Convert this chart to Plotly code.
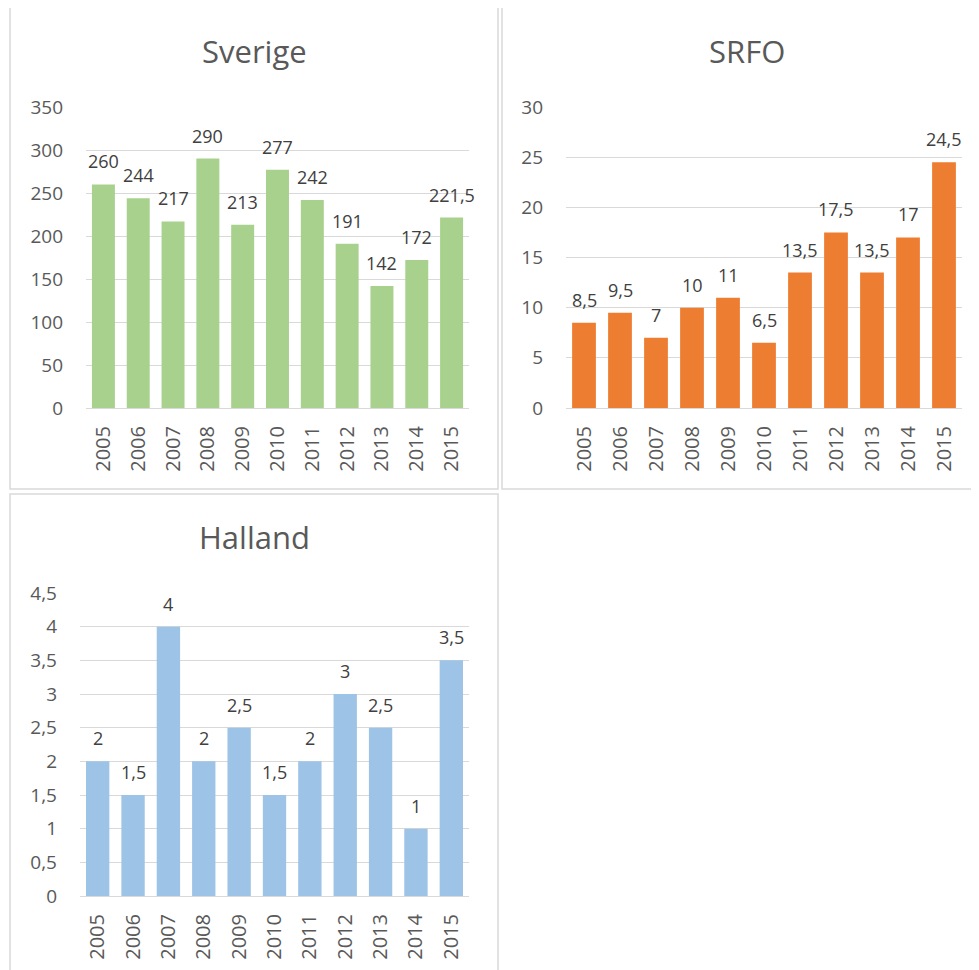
import plotly.graph_objects as go

years = ["2005", "2006", "2007", "2008", "2009", "2010", "2011", "2012", "2013", "2014", "2015"]
sverige = [260, 244, 217, 290, 213, 277, 242, 191, 142, 172, 221.5]
srfo = [8.5, 9.5, 7, 10, 11, 6.5, 13.5, 17.5, 13.5, 17, 24.5]
halland = [2, 1.5, 4, 2, 2.5, 1.5, 2, 3, 2.5, 1, 3.5]

W, H = 979, 970
OFF = 8  # page body margin
FONT = "Open Sans"
GREY = "#595959"
GRID = "#D9D9D9"


def fmt(v):
    s = ("%g" % v)
    return s.replace(".", ",")


def px(x):
    return (x - OFF) / W


def py(y):
    return 1 - (y - OFF) / H


fig = go.Figure()

panels = [
    dict(name="Sverige", vals=sverige, color="#A9D18E", ax="", xd=(86, 469), yd=(107, 408),
         yr=[0, 350], dt=50, title=(254, 51)),
    dict(name="SRFO", vals=srfo, color="#ED7D31", ax="2", xd=(566, 962), yd=(107, 408),
         yr=[0, 30], dt=5, title=(747, 51)),
    dict(name="Halland", vals=halland, color="#9DC3E6", ax="3", xd=(80, 469), yd=(593, 896),
         yr=[0, 4.5], dt=0.5, title=(254, 537)),
]

annotations = []
for p in panels:
    fig.add_trace(go.Bar(
        x=years, y=p["vals"], marker=dict(color=p["color"], line=dict(width=0)),
        showlegend=False, name=p["name"], hoverinfo="x+y",
        xaxis="x" + p["ax"], yaxis="y" + p["ax"],
    ))
    for i, v in enumerate(p["vals"]):
        annotations.append(dict(text=fmt(v), x=i, y=v, xref="x" + p["ax"], yref="y" + p["ax"],
                                showarrow=False, xanchor="center", yanchor="middle", yshift=23,
                                font=dict(family=FONT, size=18, color="#404040")))
    xa = dict(domain=[px(p["xd"][0]), px(p["xd"][1])], anchor="y" + p["ax"],
              tickangle=-90, showgrid=False, showline=True, linecolor=GRID, linewidth=1,
              tickfont=dict(family=FONT, size=20, color=GREY), ticks="", ticklabelstandoff=9,
              type="category", range=[-0.5, len(years) - 0.5],
              fixedrange=True, automargin=False)
    ya = dict(domain=[py(p["yd"][1]), py(p["yd"][0])], anchor="x" + p["ax"],
              range=p["yr"], dtick=p["dt"], tick0=0, showgrid=True, gridcolor=GRID, gridwidth=1,
              zeroline=False, showline=False, ticks="",
              tickfont=dict(family=FONT, size=19, color=GREY), ticklabelstandoff=22,
              fixedrange=True, automargin=False)
    fig.update_layout(**{"xaxis" + p["ax"]: xa, "yaxis" + p["ax"]: ya})
    annotations.append(dict(text=p["name"], x=px(p["title"][0]), y=py(p["title"][1]),
                            xref="paper", yref="paper", showarrow=False,
                            xanchor="center", yanchor="middle",
                            font=dict(family=FONT, size=31, color=GREY)))

shapes = [
    dict(type="rect", xref="paper", yref="paper", x0=px(10), x1=px(498), y0=py(489), y1=py(7),
         line=dict(color=GRID, width=1.5), fillcolor="rgba(0,0,0,0)", layer="below"),
    dict(type="rect", xref="paper", yref="paper", x0=px(502), x1=px(995), y0=py(489), y1=py(7),
         line=dict(color=GRID, width=1.5), fillcolor="rgba(0,0,0,0)", layer="below"),
    dict(type="rect", xref="paper", yref="paper", x0=px(10), x1=px(498), y0=py(995), y1=py(494),
         line=dict(color=GRID, width=1.5), fillcolor="rgba(0,0,0,0)", layer="below"),
]

fig.update_layout(
    width=W, height=H, margin=dict(l=0, r=0, t=0, b=0, pad=0, autoexpand=False),
    paper_bgcolor="white", plot_bgcolor="white",
    bargap=0.34, separators=", ",
    annotations=annotations, shapes=shapes,
    font=dict(family=FONT, color=GREY),
)

fig.write_html("out.html")
